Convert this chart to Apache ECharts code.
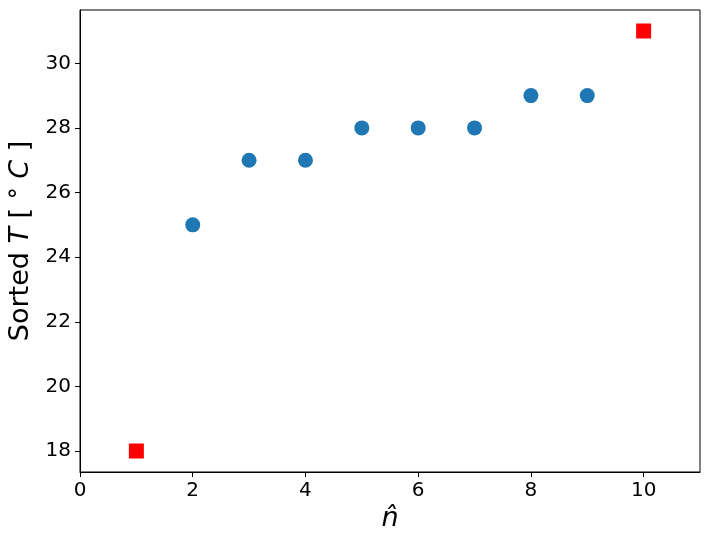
<!DOCTYPE html>
<html>
<head>
<meta charset="utf-8">
<script src="https://cdn.jsdelivr.net/npm/echarts@6/dist/echarts.min.js"></script>
<style>
html,body{margin:0;padding:0;background:#fff;}
#chart{width:710px;height:547px;}
</style>
</head>
<body>
<div id="chart"></div>
<script>
// Data
const innerN = [2, 3, 4, 5, 6, 7, 8, 9];
const innerT = [25, 27, 27, 28, 28, 28, 29, 29];
const extremeN = [1, 10];
const extremeT = [18, 31];
const xTicks = [0, 2, 4, 6, 8, 10];
const yTicks = [18, 20, 22, 24, 26, 28, 30];

const FONT = 'DejaVu Sans';
const chart = echarts.init(document.getElementById('chart'), null, {renderer: 'canvas'});

const option = {
  animation: false,
  backgroundColor: '#ffffff',
  grid: {
    left: 80, right: 10, top: 10, bottom: 75,
    containLabel: false,
    outerBoundsMode: 'none',
    show: true, borderColor: '#000', borderWidth: 1, backgroundColor: 'transparent'
  },
  xAxis: {
    type: 'value',
    min: 0, max: 11,
    name: 'n\u0302',
    nameLocation: 'middle',
    nameGap: 28,
    nameTextStyle: {fontFamily: FONT, fontSize: 27, fontStyle: 'italic', color: '#000'},
    axisLine: {show: true, onZero: false, lineStyle: {color: '#000', width: 1}},
    axisTick: {show: true, length: 5, customValues: xTicks, lineStyle: {color: '#000'}},
    axisLabel: {customValues: xTicks, margin: 9, fontFamily: FONT, fontSize: 20, color: '#000'},
    splitLine: {show: false}
  },
  yAxis: {
    type: 'value',
    min: 17.35, max: 31.65,
    name: 'Sorted {i|T} [ {s|\u00b0} {i|C} ]',
    nameLocation: 'middle',
    nameGap: 44,
    nameTextStyle: {
      fontFamily: FONT, fontSize: 27, color: '#000',
      rich: {
        i: {fontFamily: FONT, fontSize: 27, fontStyle: 'italic', color: '#000'},
        s: {fontFamily: FONT, fontSize: 24, color: '#000'}
      }
    },
    axisLine: {show: true, onZero: false, lineStyle: {color: '#000', width: 1}},
    axisTick: {show: true, length: 5, customValues: yTicks, lineStyle: {color: '#000'}},
    axisLabel: {customValues: yTicks, margin: 9, fontFamily: FONT, fontSize: 20, color: '#000'},
    splitLine: {show: false}
  },
  series: [
    {
      type: 'scatter',
      data: innerN.map((n, i) => [n, innerT[i]]),
      symbol: 'circle',
      symbolSize: 15,
      itemStyle: {color: '#1f77b4', opacity: 1}
    },
    {
      type: 'scatter',
      data: extremeN.map((n, i) => [n, extremeT[i]]),
      symbol: 'rect',
      symbolSize: 15,
      itemStyle: {color: '#ff0000', opacity: 1}
    }
  ]
};
chart.setOption(option);
</script>
</body>
</html>
